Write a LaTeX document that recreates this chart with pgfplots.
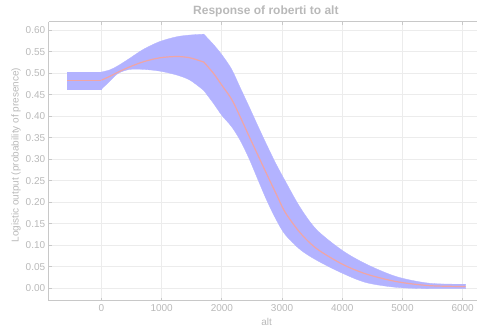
\documentclass[border=0pt]{standalone}
\usepackage{pgfplots}
\pgfplotsset{compat=1.18}
\usepackage{pgfplotstable}
\usepgfplotslibrary{fillbetween}
\usepackage{fontspec}
\setmainfont{Liberation Sans}
\definecolor{bandc}{RGB}{179,179,255}
\definecolor{linec}{RGB}{240,165,165}
\definecolor{txtc}{RGB}{185,185,185}
\definecolor{spinec}{RGB}{200,200,200}
\definecolor{gridc}{RGB}{236,236,236}
% segment 1: flat part
\pgfplotstableread{
x mean lo hi
-570 0.484 0.463 0.503
0 0.484 0.463 0.503
}\segA
% segment 2: rise to the peak
\pgfplotstableread{
x mean lo hi
0 0.484 0.463 0.503
140 0.493 0.482 0.508
280 0.503 0.500 0.518
470 0.515 0.509 0.535
700 0.527 0.509 0.556
970 0.536 0.505 0.574
1250 0.539 0.496 0.585
1470 0.536 0.484 0.589
1700 0.526 0.460 0.591
}\segB
% segment 3: decline
\pgfplotstableread{
x mean lo hi
1700 0.526 0.460 0.591
1860 0.500 0.430 0.567
2000 0.472 0.402 0.543
2160 0.440 0.376 0.510
2300 0.400 0.345 0.468
2450 0.354 0.302 0.423
2600 0.309 0.252 0.377
2750 0.264 0.203 0.332
2900 0.220 0.160 0.289
3050 0.177 0.125 0.250
3300 0.129 0.090 0.188
3575 0.092 0.065 0.136
4000 0.056 0.035 0.088
4400 0.033 0.013 0.056
4900 0.0154 0.002 0.027
5450 0.006 -0.001 0.0116
6050 0.004 -0.001 0.0093
}\segD
% #1 plot options, #2 table, #3 name
\newcommand{\band}[3]{%
  \addplot[name path=hi#3, draw=none, forget plot, #1] table[x=x, y=hi] {#2};
  \addplot[name path=lo#3, draw=none, forget plot, #1] table[x=x, y=lo] {#2};
  \addplot[fill=bandc, draw=bandc, line width=0.3bp, forget plot] fill between[of=hi#3 and lo#3];
}
\begin{document}
\begin{tikzpicture}
\begin{axis}[
  scale only axis, width=428.3bp, height=279bp,
  xmin=-877, xmax=6238, ymin=-0.029, ymax=0.62,
  axis x line*=box, axis y line*=left,
  axis line style={draw=spinec, line width=1.2bp},
  xtick={0,1000,2000,3000,4000,5000,6000},
  ytick={0,0.05,0.1,0.15,0.2,0.25,0.3,0.35,0.4,0.45,0.5,0.55,0.6},
  yticklabel style={/pgf/number format/.cd, fixed, fixed zerofill, precision=2},
  xticklabel style={/pgf/number format/1000 sep={}},
  /pgf/number format/assume math mode=true,
  ticklabel style={font=\fontsize{10bp}{12bp}\selectfont, text=txtc},
  tick style={draw=spinec, line width=0.8bp},
  major tick length=3bp,
  grid=major, grid style={draw=gridc, line width=0.8bp},
  xlabel={alt}, ylabel={Logistic output (probability of presence)},
  xlabel style={at={(axis description cs:0.509,-0.0753)}, anchor=center, font=\fontsize{10bp}{12bp}\selectfont, text=txtc},
  ylabel style={at={(axis description cs:-0.0763,0.522)}, anchor=center, rotate=0, font=\fontsize{10bp}{12bp}\selectfont, text=txtc},
  clip=false,
]
\band{}{\segA}{A}
\band{smooth, tension=0.5}{\segB}{B}
\band{smooth, tension=0.5}{\segD}{D}
\addplot[draw=linec, line width=1.2bp, no markers] table[x=x, y=mean] {\segA};
\addplot[draw=linec, line width=1.2bp, no markers, smooth, tension=0.5] table[x=x, y=mean] {\segB};
\addplot[draw=linec, line width=1.2bp, no markers, smooth, tension=0.5] table[x=x, y=mean] {\segD};
\node[anchor=center, font=\fontsize{12bp}{14bp}\selectfont\bfseries, text=txtc, inner sep=0pt]
  at (axis description cs:0.507,1.038) {Response of roberti to alt};
\coordinate (sw) at (rel axis cs:0,0);
\coordinate (ne) at (rel axis cs:1,1);
\end{axis}
\pgfresetboundingbox
\path ([shift={(-48.7bp,-31.3bp)}]sw) rectangle ([shift={(0bp,21.7bp)}]ne);
\end{tikzpicture}
\end{document}
